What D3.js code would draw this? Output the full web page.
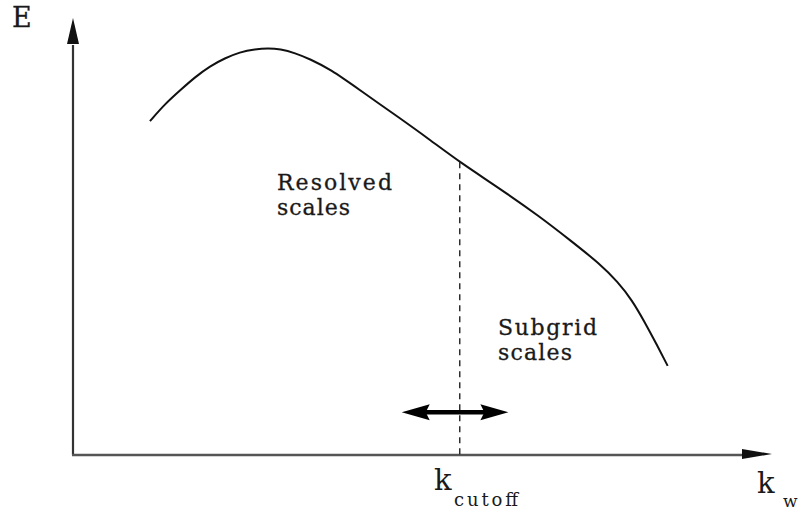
<!DOCTYPE html>
<html><head><meta charset="utf-8">
<script src="https://cdn.jsdelivr.net/npm/d3@7"></script>
<style>body{margin:0;background:#fff}svg{display:block}text{font-family:"DejaVu Serif",serif;fill:#1a1a1a}</style>
</head><body><svg id="c" width="802" height="514"></svg>
<script>
// Energy spectrum curve (arbitrary units, x = wavenumber, y = energy)
const curveK = [11.4,13.6,15.9,18.1,20.3,22.5,24.7,27.0,28.9,30.7,32.9,35.1,38.1,42.5,48.4,52.9,57.3,63.3,69.2,73.6,78.1,80.7,82.8,84.7,86.5,88.1];
const curveE = [76.4,80.3,83.5,86.5,89.0,90.8,92.2,92.9,93.1,92.9,92.0,90.6,88.3,83.5,77.1,72.1,67.0,60.9,54.5,49.2,43.7,39.6,35.5,30.4,25.2,20.4];
const cutoffK = 57.3;
const cutoffE = 67.0;
const arrowRange = [48.7, 64.5];
const arrowE = 9.8;
const labels = ["Resolved","scales","Subgrid","scales"];

const svg = d3.select("#c");
const x = d3.scaleLinear().domain([0,100]).range([73,748]);
const y = d3.scaleLinear().domain([0,100]).range([455,18]);

// axes
svg.append("line").attr("x1",x(0)).attr("y1",y(0)).attr("x2",x(0)).attr("y2",y(0)-410)
  .attr("stroke","#333").attr("stroke-width",2.2);
svg.append("path").attr("d",`M${x(0)},${y(100)} L${x(0)-6},${y(100)+26} L${x(0)+6},${y(100)+26} Z`).attr("fill","#111");
svg.append("line").attr("x1",x(0)-1).attr("y1",y(0)).attr("x2",745).attr("y2",y(0))
  .attr("stroke","#555").attr("stroke-width",2.5);
svg.append("path").attr("d",`M772,${y(0)-1} L742,${y(0)-6} L742,${y(0)+4} Z`).attr("fill","#111");

// curve
const pts = curveK.map((k,i)=>[k,curveE[i]]);
svg.append("path").attr("d",d3.line().x(d=>x(d[0])).y(d=>y(d[1])).curve(d3.curveBasis)(pts))
  .attr("fill","none").attr("stroke","#111").attr("stroke-width",2);

// dashed cutoff
svg.append("line").attr("x1",x(cutoffK)).attr("x2",x(cutoffK)).attr("y1",y(cutoffE)).attr("y2",y(0))
  .attr("stroke","#111").attr("stroke-width",1.3).attr("stroke-dasharray","6,5");

// double arrow
const ax0 = x(arrowRange[0]), ax1 = x(arrowRange[1]), ay = y(arrowE);
svg.append("line").attr("x1",ax0+20).attr("x2",ax1-20).attr("y1",ay).attr("y2",ay).attr("stroke","#000").attr("stroke-width",4.5);
svg.append("path").attr("d",`M${ax0},${ay} L${ax0+28},${ay-8} L${ax0+24},${ay} L${ax0+28},${ay+8} Z`).attr("fill","#000");
svg.append("path").attr("d",`M${ax1},${ay} L${ax1-28},${ay-8} L${ax1-24},${ay} L${ax1-28},${ay+8} Z`).attr("fill","#000");

// labels
const lab = (t,xx,yy,w)=>svg.append("text").attr("x",xx).attr("y",yy).attr("font-size",22)
  .attr("stroke","#1a1a1a").attr("stroke-width",0.3)
  .attr("textLength",w).attr("lengthAdjust","spacing").text(t);
svg.append("text").attr("x",12).attr("y",27).attr("font-size",27).attr("stroke","#1a1a1a").attr("stroke-width",0.3).text("E");
lab(labels[0],277,190,115);
lab(labels[1],277,215,73);
lab(labels[2],498,335,99);
lab(labels[3],498,360,74);

const kc = svg.append("text").attr("x",434).attr("y",490).attr("font-size",29);
kc.append("tspan").text("k");
kc.append("tspan").attr("x",454).attr("y",506).attr("font-size",18).attr("textLength",64).attr("lengthAdjust","spacing").text("cutoff");
const kw = svg.append("text").attr("x",757).attr("y",493).attr("font-size",29);
kw.append("tspan").text("k");
kw.append("tspan").attr("x",783).attr("y",507).attr("font-size",17).text("w");
</script></body></html>
